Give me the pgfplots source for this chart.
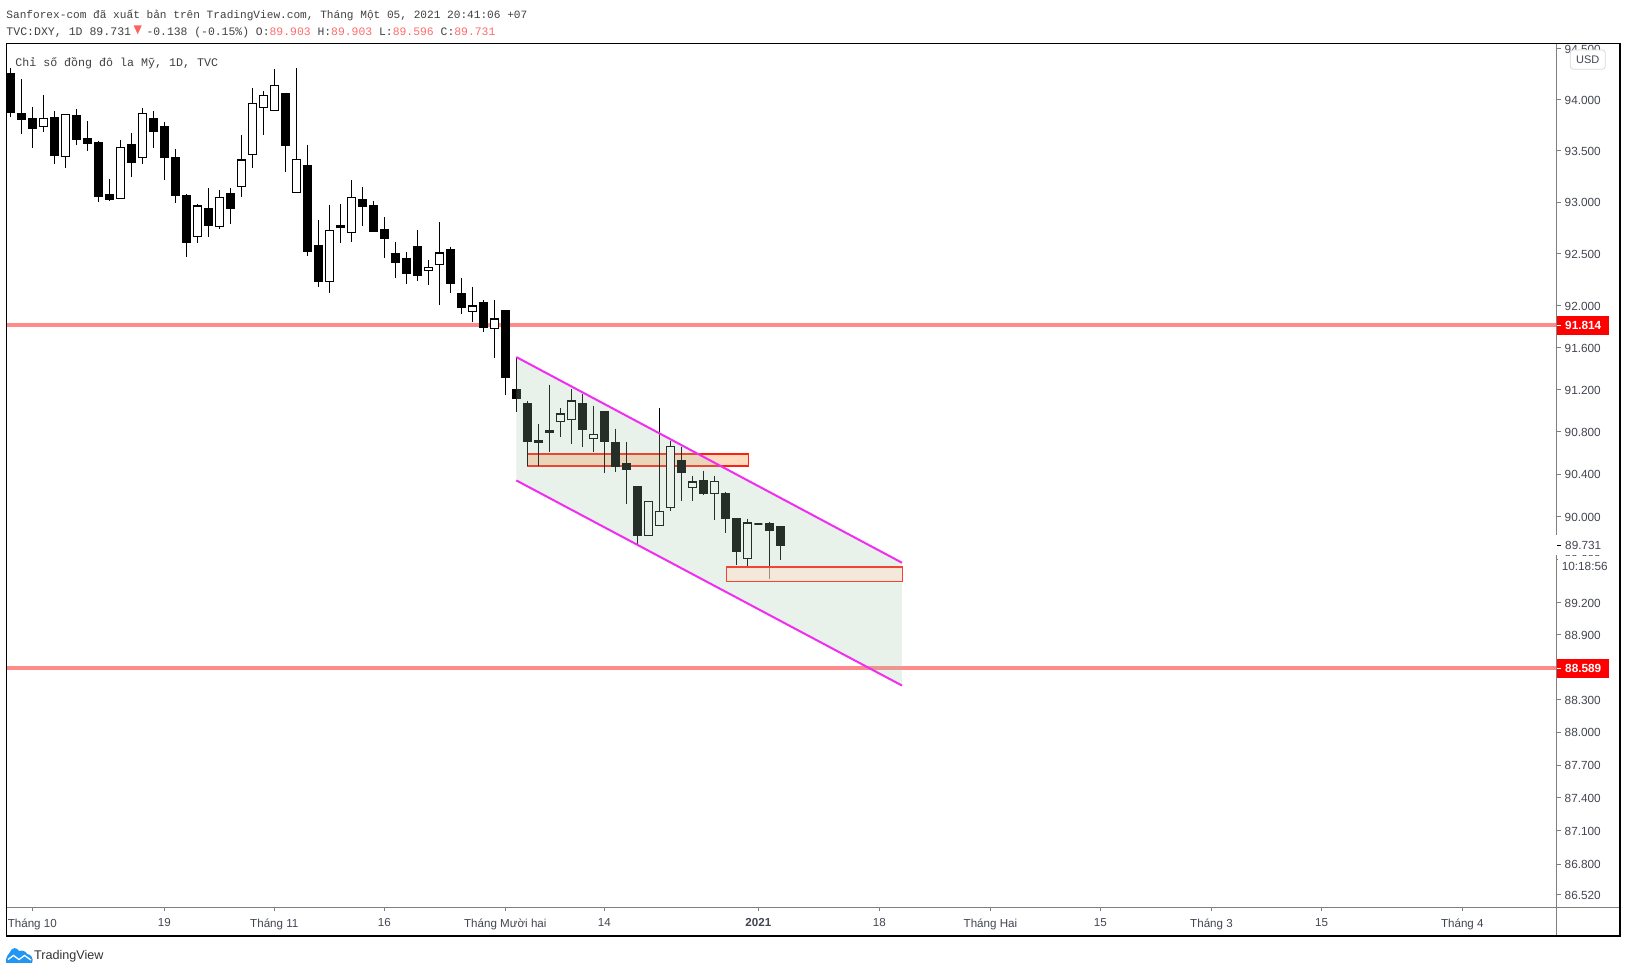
\documentclass[border=0pt]{standalone}
\usepackage{fontspec}
\setmainfont{Liberation Sans}
\newfontfamily\monofont{Liberation Mono}
\usepackage{pgfplots}
\pgfplotsset{compat=1.18}

\definecolor{ticktxt}{HTML}{434651}
\definecolor{axisgray}{HTML}{7F7F7F}
\definecolor{hl}{HTML}{FF8A8A}
\definecolor{zone}{RGB}{162,196,170}
\definecolor{chan}{RGB}{240,45,240}
\definecolor{valred}{HTML}{FF6B6B}
\definecolor{tvblue}{RGB}{33,150,243}
\definecolor{boxa}{RGB}{255,32,16}
\definecolor{boxafill}{RGB}{255,220,192}
\definecolor{boxb}{RGB}{240,69,53}
\definecolor{boxbfill}{RGB}{255,226,205}

% i, high, top of body, bottom of body, low, body colour
\newcommand{\candle}[6]{%
  \pgfmathsetmacro{\xl}{#1-0.36}\pgfmathsetmacro{\xr}{#1+0.36}%
  \addplot[draw=black,line width=1.2pt] coordinates {(#1,#2)(#1,#5)};
  \addplot[draw=black,fill=#6,line width=1.2pt] coordinates {(\xl,#3)(\xr,#3)(\xr,#4)(\xl,#4)} --cycle;
}
\newcommand{\bear}[5]{\candle{#1}{#2}{#3}{#4}{#5}{black}}
\newcommand{\bull}[5]{\candle{#1}{#2}{#3}{#4}{#5}{white}}

\begin{document}
\begin{tikzpicture}
\useasboundingbox (0,0) rectangle (1627pt,973pt);
\fill[white] (0,0) rectangle (1627pt,973pt);
\begin{axis}[
    at={(6.3pt,65.7pt)},
    anchor=south west,
    scale only axis,
    width=1550.4pt,
    height=864pt,
    % price scale is logarithmic
    y coord trafo/.code={\pgfmathparse{100*ln(#1)}},
    xmin=-0.364, xmax=140.58,
    ymin=86.412, ymax=94.55,
    axis line style={draw=none},
    tick style={draw=axisgray,line width=0.9pt},
    major tick length=4pt,
    tick align=outside,
    xtick pos=bottom,
    ytick pos=right,
    yticklabel pos=right,
    yminorticks=false,
    xminorticks=false,
    xtick={2,14,24,34,45,54,68,79,89.1,99.1,109.2,119.2,132},
    xticklabels={Tháng 10,19,Tháng 11,16,Tháng Mười hai,14,{\bfseries 2021},18,Tháng Hai,15,Tháng 3,15,Tháng 4},
    ytick={94.5,94,93.5,93,92.5,92,91.6,91.2,90.8,90.4,90,89.6,89.2,88.9,88.3,88,87.7,87.4,87.1,86.8,86.52},
    yticklabels={94.500,94.000,93.500,93.000,92.500,92.000,91.600,91.200,90.800,90.400,90.000,89.600,89.200,88.900,88.300,88.000,87.700,87.400,87.100,86.800,86.520},
    xticklabel style={font=\fontsize{11.6pt}{12pt}\selectfont,text=ticktxt,inner sep=0pt,yshift=-7pt},
    yticklabel style={font=\fontsize{11.8pt}{12pt}\selectfont,text=ticktxt,inner sep=0pt,xshift=3.8pt,yshift=-0.6pt},
]
% horizontal levels
\addplot[hl,line width=4pt] coordinates {(-0.364,91.814)(140.58,91.814)};
\addplot[hl,line width=4pt] coordinates {(-0.364,88.589)(140.58,88.589)};
% upper zone sits under the candles
\addplot[draw=boxa,fill=boxafill,line width=1.2pt]
  coordinates {(47,90.588)(67.13,90.588)(67.13,90.475)(47,90.475)} --cycle;
% candles
\bear{0}{94.305}{94.249}{93.870}{93.824}
\bear{1}{94.200}{93.857}{93.798}{93.662}
\bear{2}{93.925}{93.808}{93.720}{93.525}
\bull{3}{94.042}{93.814}{93.733}{93.681}
\bear{4}{93.886}{93.818}{93.451}{93.370}
\bull{5}{93.853}{93.853}{93.441}{93.331}
\bear{6}{93.905}{93.837}{93.603}{93.555}
\bear{7}{93.788}{93.613}{93.574}{93.496}
\bear{8}{93.594}{93.574}{93.058}{93.000}
\bear{9}{93.227}{93.068}{93.029}{93.009}
\bull{10}{93.603}{93.535}{93.032}{93.032}
\bear{11}{93.672}{93.555}{93.379}{93.243}
\bull{12}{93.915}{93.863}{93.431}{93.370}
\bear{13}{93.886}{93.808}{93.681}{93.525}
\bear{14}{93.779}{93.730}{93.428}{93.214}
\bear{15}{93.516}{93.428}{93.068}{92.990}
\bear{16}{93.077}{93.058}{92.605}{92.470}
\bull{17}{92.980}{92.961}{92.666}{92.605}
\bear{18}{93.136}{92.932}{92.768}{92.662}
\bull{19}{93.117}{93.045}{92.759}{92.739}
\bear{20}{93.136}{93.077}{92.932}{92.788}
\bull{21}{93.652}{93.405}{93.149}{93.048}
\bull{22}{94.111}{93.961}{93.461}{93.331}
\bull{23}{94.082}{94.039}{93.918}{93.652}
\bull{24}{94.298}{94.137}{93.889}{93.889}
\bear{25}{94.062}{94.062}{93.555}{93.292}
\bull{26}{94.308}{93.415}{93.090}{93.090}
\bear{27}{93.555}{93.350}{92.518}{92.479}
\bear{28}{92.826}{92.576}{92.229}{92.180}
\bull{29}{92.971}{92.727}{92.229}{92.122}
\bear{30}{92.980}{92.768}{92.749}{92.605}
\bull{31}{93.214}{93.045}{92.704}{92.614}
\bear{32}{93.145}{93.019}{92.961}{92.768}
\bear{33}{93.009}{92.961}{92.711}{92.711}
\bear{34}{92.855}{92.730}{92.643}{92.460}
\bear{35}{92.614}{92.498}{92.412}{92.267}
\bear{36}{92.518}{92.450}{92.315}{92.209}
\bear{37}{92.730}{92.566}{92.286}{92.238}
\bull{38}{92.441}{92.364}{92.338}{92.200}
\bull{39}{92.807}{92.505}{92.396}{92.007}
\bear{40}{92.566}{92.537}{92.219}{92.122}
\bear{41}{92.267}{92.113}{91.988}{91.921}
\bull{42}{92.180}{91.998}{91.944}{91.845}
\bear{43}{92.055}{92.026}{91.788}{91.750}
\bull{44}{92.055}{91.871}{91.781}{91.502}
\bear{45}{91.950}{91.950}{91.311}{91.149}
\bear{46}{91.508}{91.196}{91.111}{90.988}
\bear{47}{91.092}{91.063}{90.705}{90.478}
\bear{48}{90.874}{90.714}{90.695}{90.478}
\bear{49}{91.244}{90.808}{90.789}{90.610}
\bull{50}{91.025}{90.966}{90.896}{90.752}
\bull{51}{91.206}{91.089}{90.915}{90.686}
\bear{52}{91.158}{91.063}{90.818}{90.657}
\bull{53}{91.044}{90.771}{90.736}{90.610}
\bear{54}{90.988}{90.988}{90.705}{90.412}
\bear{55}{90.827}{90.695}{90.469}{90.421}
\bear{56}{90.705}{90.497}{90.440}{90.120}
\bear{57}{90.280}{90.280}{89.821}{89.737}
\bull{58}{90.138}{90.138}{89.824}{89.824}
\bull{59}{91.025}{90.045}{89.917}{89.917}
\bull{60}{90.714}{90.657}{90.085}{90.054}
\bear{61}{90.657}{90.525}{90.412}{90.148}
\bull{62}{90.384}{90.325}{90.274}{90.148}
\bear{63}{90.431}{90.337}{90.214}{90.205}
\bull{64}{90.384}{90.334}{90.217}{89.970}
\bear{65}{90.233}{90.214}{89.989}{89.849}
\bear{66}{89.980}{89.980}{89.671}{89.550}
\bull{67}{89.980}{89.939}{89.609}{89.513}
\bear{68}{89.930}{89.930}{89.930}{89.930}
\bear{69}{89.952}{89.933}{89.867}{89.419}
\bear{70}{89.903}{89.903}{89.731}{89.596}
% channel fill goes over the candles
\addplot[draw=none,fill=zone,fill opacity=0.235]
  coordinates {(46,91.508)(81.06,89.569)(81.06,88.430)(46,90.339)} --cycle;
% lower zone
\addplot[draw=boxb,fill=boxbfill,fill opacity=0.55,line width=1.2pt]
  coordinates {(65.09,89.529)(81.13,89.529)(81.13,89.394)(65.09,89.394)} --cycle;
% channel borders
\addplot[chan,line width=2pt] coordinates {(46,91.508)(81.06,89.569)};
\addplot[chan,line width=2pt] coordinates {(46,90.339)(81.06,88.430)};
\end{axis}
\begin{scope}[x=1pt,y=-1pt,shift={(0pt,973pt)}]
  % price scale overlays
  \fill[white] (1558,36) rectangle (1625,42.7);
  \draw[axisgray,line width=0.9pt] (1556.7,43.3) -- (1556.7,936);
  \draw[axisgray,line width=0.9pt] (6.3,907.3) -- (1620,907.3);
  % last price, countdown
  \fill[white] (1556,535) rectangle (1618,554.6);
  \fill[white] (1558,556) rectangle (1618,576);
  \draw[black,line width=0.9pt] (1557,545.3) -- (1561,545.3);
  \node[anchor=west,inner sep=0pt,text=ticktxt,font=\fontsize{11.8pt}{12pt}\selectfont] at (1565,545.9) {89.731};
  \node[inner sep=0pt,text=ticktxt,font=\fontsize{11.8pt}{12pt}\selectfont] at (1584.7,566.3) {10:18:56};
  % level tags
  \fill[red] (1556.7,315.8) rectangle (1609,334.8);
  \draw[white,line width=0.9pt] (1557,325.3) -- (1561,325.3);
  \node[anchor=west,inner sep=0pt,text=white,font=\fontsize{11.8pt}{12pt}\selectfont\bfseries] at (1565,325.9) {91.814};
  \fill[red] (1556.7,658.8) rectangle (1609,677.8);
  \draw[white,line width=0.9pt] (1557,668.3) -- (1561,668.3);
  \node[anchor=west,inner sep=0pt,text=white,font=\fontsize{11.8pt}{12pt}\selectfont\bfseries] at (1565,668.9) {88.589};
  % USD button
  \draw[fill=white,draw=black!15,line width=0.8pt,rounded corners=3pt] (1570.3,50) rectangle (1605.3,69.3);
  \node[inner sep=0pt,text=ticktxt,font=\fontsize{11pt}{12pt}\selectfont] at (1587.8,59.5) {USD};
  % outer frame
  \draw[black,line width=1.2pt] (6.3,43.3) rectangle (1620,936);
  % header
  \node[anchor=base west,inner sep=0pt,text=black!75,font=\monofont\fontsize{11.13pt}{12pt}\selectfont] at (6.2,18.3)
    {Sanforex-com đã xuất bản trên TradingView.com, Tháng Một 05, 2021 20:41:06 +07};
  \node[anchor=base west,inner sep=0pt,text=black!75,font=\monofont\fontsize{11.55pt}{12pt}\selectfont] at (6.2,35.3)
    {TVC:DXY, 1D 89.731};
  \fill[valred!90!red] (133.6,25.3) -- (141.8,25.3) -- (137.7,34.3) -- cycle;
  \node[anchor=base west,inner sep=0pt,text=black!75,font=\monofont\fontsize{11.4pt}{12pt}\selectfont] at (146.3,35.3)
    {-0.138 (-0.15\%) O:\textcolor{valred}{89.903} H:\textcolor{valred}{89.903} L:\textcolor{valred}{89.596} C:\textcolor{valred}{89.731}};
  \node[anchor=base west,inner sep=0pt,text=black!75,font=\monofont\fontsize{11.65pt}{12pt}\selectfont] at (15.1,66.5)
    {Chỉ số đồng đô la Mỹ, 1D, TVC};
  % footer logo
  \fill[tvblue] (6,963) .. controls (5,957) and (9,954) .. (10,952) .. controls (12,947) and (17,947) .. (19,951)
     .. controls (22,950) and (26,951) .. (27,954) .. controls (31,954) and (34,959) .. (32,963) -- cycle;
  \draw[white,line width=1.3pt] (8,959.5) -- (13.5,955.5) -- (19,959.5) -- (24.5,955.5) -- (31,960);
  \node[anchor=west,inner sep=0pt,text=black!80,font=\fontsize{12.6pt}{13pt}\selectfont] at (34,956.3) {TradingView};
\end{scope}
\end{tikzpicture}
\end{document}
